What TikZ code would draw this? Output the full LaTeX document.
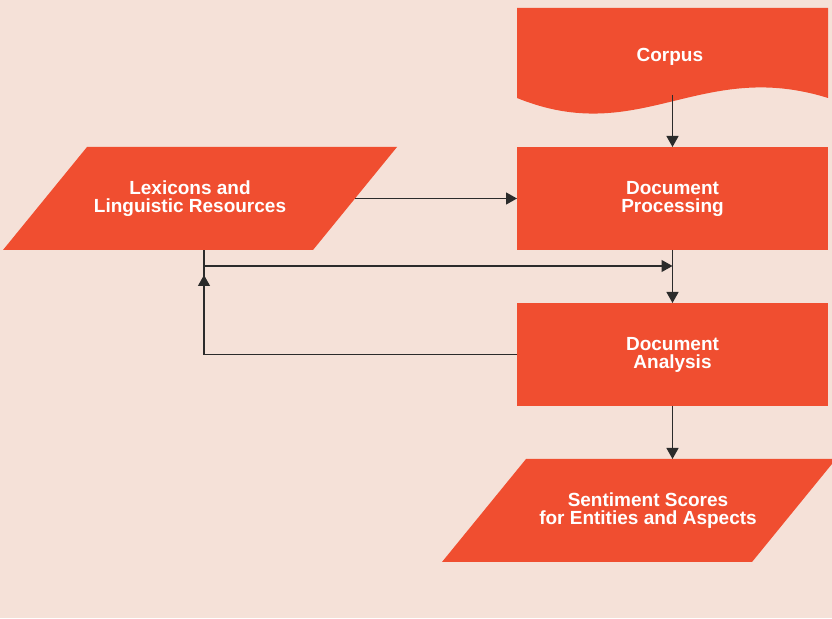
\documentclass[tikz,border=0pt]{standalone}
\usepackage{fontspec}
\setmainfont{Liberation Sans}
\usetikzlibrary{arrows.meta,positioning,backgrounds}

\definecolor{paper}{HTML}{F5E1D8}
\definecolor{flame}{HTML}{F04E30}
\definecolor{wire}{HTML}{2B2B2B}

\tikzset{
    process/.style={rectangle, fill=flame, text=white, align=center,
        font=\bfseries\fontsize{19}{18}\selectfont,
        minimum width=311pt, minimum height=103pt, inner sep=0pt, outer sep=0pt},
    data/.style={process, fill=none, minimum width=310pt},
    link/.style={draw=wire, line width=1.2pt},
    flow/.style={link, -{Triangle[length=11pt,width=12pt]}}
}

% slanted fill behind a data node
\newcommand{\slantfill}[1]{%
    \fill [flame] ([xshift=42pt]#1.north west) -- ([xshift=42pt]#1.north east)
        -- ([xshift=-42pt]#1.south east) -- ([xshift=-42pt]#1.south west) -- cycle;
}

\begin{document}
\begin{tikzpicture}[x=1pt, y=1pt]

    \begin{scope}[on background layer]
        \fill [paper] (0,0) rectangle (832,618);
    \end{scope}
    \useasboundingbox (0,0) rectangle (832,618);

    %-----Steps-----
    % Document Processing
    \node [process] (docproc) at (672.5,419.5) {%
        Document \\
        Processing
    };

    % Corpus (document with wavy bottom)
    \node [process, fill=none, minimum height=76pt, above=52pt of docproc] (corpus) {%
        Corpus
    };

    % Document Analysis
    \node [process, below=53pt of docproc] (docanal) {%
        Document \\
        Analysis
    };

    % Lexicons
    \node [data, left=162pt of docproc] (lexicons) {%
        Lexicons and\hspace*{20pt} \\
        Linguistic Resources\hspace*{20pt}
    };

    % Sentiment Scores
    \node [data, below=53pt of docanal, xshift=-33.5pt] (scores) {%
        \hspace*{18pt}Sentiment Scores \\
        \hspace*{18pt}for Entities and Aspects
    };

    %-----Shapes behind the text-----
    \begin{scope}[on background layer]
        \fill [flame] ([yshift=11pt]corpus.north west) -- ([yshift=11pt]corpus.north east)
            -- ([yshift=-3pt]corpus.south east)
            .. controls +(-128,40) and +(123,-50) .. ([yshift=-3pt]corpus.south west) -- cycle;
        \slantfill{lexicons}
        \slantfill{scores}
    \end{scope}

    %-----Connectors-----
    \draw [flow] (corpus.south) -- (docproc.north);
    \draw [flow] (lexicons.east) -- (docproc.west);
    \draw [flow] (docproc.south) -- (docanal.north);
    \draw [flow] (docanal.south) -- (docanal.south |- scores.north);

    % feedback to the lexicons
    \coordinate (lexdrop) at ([xshift=4pt]lexicons.south);
    \coordinate (merge) at ([yshift=-16pt]docproc.south);
    \draw [link] (docanal.west) -| (lexdrop);
    \draw [flow] (docanal.west) -| ([yshift=-25pt]lexdrop);
    \draw [flow] (lexdrop |- merge) -- (merge);

\end{tikzpicture}
\end{document}
